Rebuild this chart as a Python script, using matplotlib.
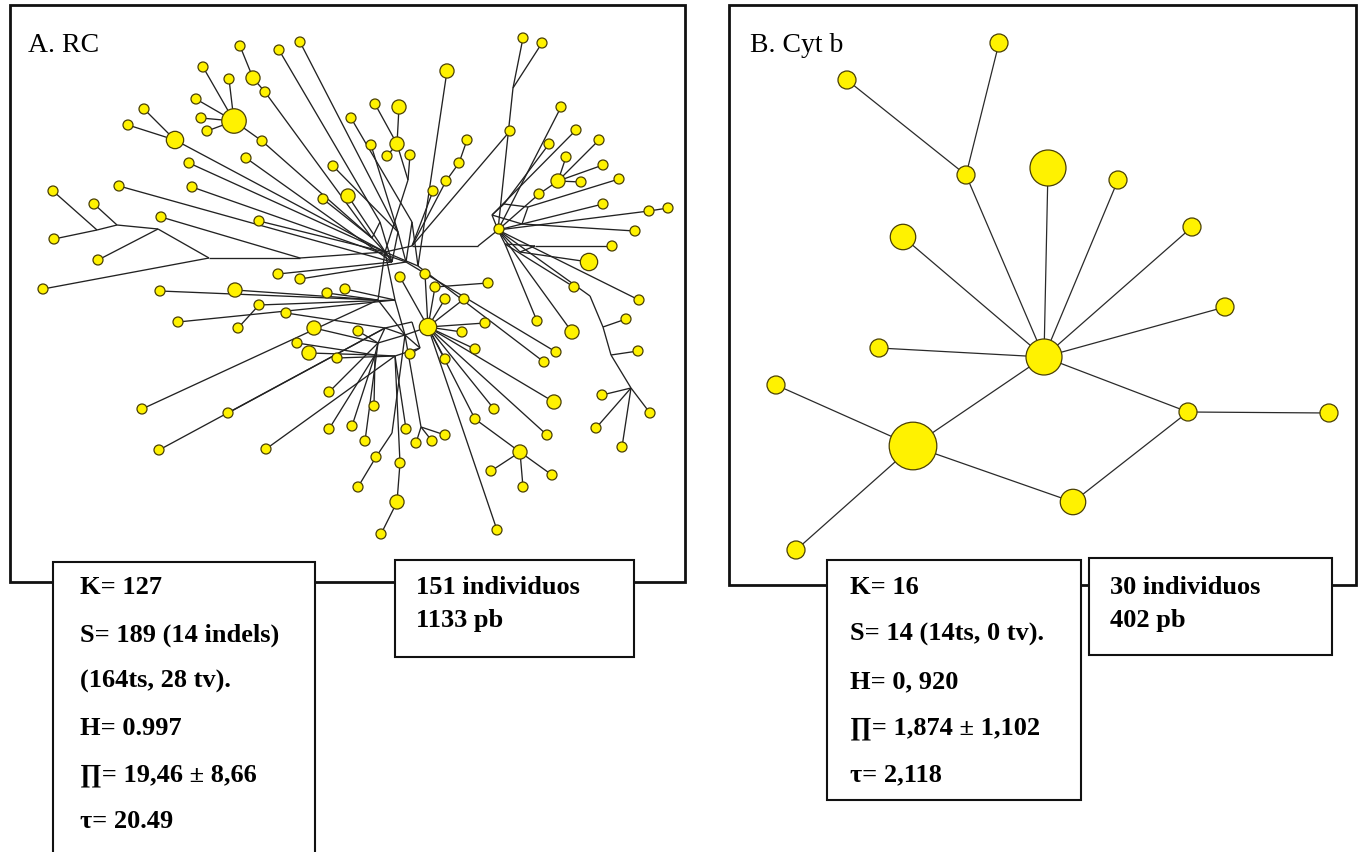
import matplotlib
matplotlib.use("Agg")
import matplotlib.pyplot as plt
from matplotlib.patches import Rectangle
from matplotlib.collections import LineCollection
import numpy as np

# ---- network A (RC): haplotypes ----
a_x = [240, 279, 253, 265, 300, 203, 229, 196, 201, 234, 262, 207, 144, 128, 175, 246, 189, 333, 348, 323,
       119, 192, 53, 94, 161, 259, 54, 98, 278, 300, 43, 160, 235, 327, 345, 259, 286, 178, 238, 314,
       297, 309, 337, 329, 142, 228, 329, 159, 266, 375, 399, 397, 351, 371, 387, 410, 447, 467, 459, 446,
       433, 510, 523, 542, 561, 576, 599, 549, 566, 558, 603, 581, 539, 619, 603, 649, 668, 635, 612, 589,
       574, 499, 639, 626, 638, 602, 650, 596, 622, 537, 572, 556, 544, 428, 400, 425, 435, 488, 445, 464,
       462, 485, 358, 475, 445, 410, 494, 475, 547, 554, 374, 352, 406, 416, 432, 445, 365, 376, 400, 397,
       381, 358, 520, 491, 552, 523, 497]
a_y = [46, 50, 78, 92, 42, 67, 79, 99, 118, 121, 141, 131, 109, 125, 140, 158, 163, 166, 196, 199,
       186, 187, 191, 204, 217, 221, 239, 260, 274, 279, 289, 291, 290, 293, 289, 305, 313, 322, 328, 328,
       343, 353, 358, 392, 409, 413, 429, 450, 449, 104, 107, 144, 118, 145, 156, 155, 71, 140, 163, 181,
       191, 131, 38, 43, 107, 130, 140, 144, 157, 181, 165, 182, 194, 179, 204, 211, 208, 231, 246, 262,
       287, 229, 300, 319, 351, 395, 413, 428, 447, 321, 332, 352, 362, 327, 277, 274, 287, 283, 299, 299,
       332, 323, 331, 349, 359, 354, 409, 419, 435, 402, 406, 426, 429, 443, 441, 435, 441, 457, 463, 502,
       534, 487, 452, 471, 475, 487, 530]
a_freq = [1, 1, 2, 1, 1, 1, 1, 1, 1, 6, 1, 1, 1, 1, 3, 1, 1, 1, 2, 1,
          1, 1, 1, 1, 1, 1, 1, 1, 1, 1, 1, 1, 2, 1, 1, 1, 1, 1, 1, 2,
          1, 2, 1, 1, 1, 1, 1, 1, 1, 1, 2, 2, 1, 1, 1, 1, 2, 1, 1, 1,
          1, 1, 1, 1, 1, 1, 1, 1, 1, 2, 1, 1, 1, 1, 1, 1, 1, 1, 1, 3,
          1, 1, 1, 1, 1, 1, 1, 1, 1, 1, 2, 1, 1, 3, 1, 1, 1, 1, 1, 1,
          1, 1, 1, 1, 1, 1, 1, 1, 1, 2, 1, 1, 1, 1, 1, 1, 1, 1, 1, 2,
          1, 1, 2, 1, 1, 1, 1]
a_parent = ['h2', 'm19', 'h3', 'm18', 'm21', 'h9', 'h9', 'h9', 'h9', 'h10', 'm18', 'h9', 'h14', 'h14', 'm0',
            'm20', 'm0', 'm21', 'm20', 'm18', 'm20', 'm22', 'm9', 'm8', 'm5', 'm0', 'm9', 'm7', 'm20', 'm22',
            'm6', 'm26', 'm26', 'm26', 'm25', 'm25', 'm28', 'm25', 'h35', 'm27', 'm32', 'm32', 'm31', 'm27',
            'm26', 'm28', 'm32', 'm28', 'm31', 'h51', 'h51', 'm15', 'm23', 'm21', 'h51', 'm15', 'm24', 'h58',
            'h59', 'm4', 'm4', 'm4', 'm10', 'm10', 'm2', 'm33', 'h69', 'm34', 'h69', 'h72', 'h69', 'h69', 'm2',
            'm35', 'm36', 'm2', 'h75', 'm36', 'm38', 'm39', 'm37', 'm2', 'm2', 'm12', 'm13', 'm14', 'm14',
            'm14', 'm14', 'm37', 'm2', 'm22', 'm24', 'm1', 'h93', 'h93', 'h93', 'h96', 'h93', 'h93', 'h93',
            'h93', 'm27', 'h93', 'h93', 'm30', 'h93', 'h93', 'h93', 'h93', 'm32', 'm32', 'm31', 'm16', 'm16',
            'm16', 'm27', 'm17', 'm31', 'h118', 'h119', 'h117', 'h107', 'h122', 'h122', 'h122', 'h93']

# ---- network A: median vectors ----
mv_x = [385, 405, 498, 478, 412, 300, 209, 158, 117, 97, 513, 590, 603, 611, 631, 408, 421, 392,
        372, 380, 392, 398, 406, 412, 418, 395, 378, 378, 385, 412, 420, 395, 375,
        492, 504, 528, 522, 505, 535, 520]
mv_y = [252, 335, 230, 246, 246, 258, 258, 229, 225, 230, 88, 296, 327, 355, 388, 180, 427, 433,
        238, 222, 262, 232, 262, 222, 266, 300, 300, 343, 328, 322, 348, 356, 355,
        215, 204, 207, 224, 244, 246, 252]
mv_links = [('m0', 'm4'), ('m4', 'm3'), ('m3', 'm2'), ('m0', 'm5'), ('m5', 'm6'), ('m6', 'm7'),
            ('m7', 'm8'), ('m8', 'm9'), ('m2', 'm10'), ('m2', 'm11'), ('m11', 'm12'), ('m12', 'm13'),
            ('m13', 'm14'), ('m0', 'm15'), ('m1', 'm16'), ('m1', 'm17'),
            ('m18', 'm19'), ('m19', 'm20'), ('m20', 'm21'), ('m21', 'm22'), ('m22', 'm23'), ('m23', 'm24'),
            ('m24', 'm0'), ('m18', 'm0'), ('m20', 'm0'), ('m0', 'm25'), ('m25', 'm1'), ('m26', 'm0'),
            ('m26', 'm1'), ('m27', 'm28'), ('m28', 'm29'), ('m29', 'm30'), ('m30', 'm31'), ('m31', 'm32'),
            ('m32', 'm27'), ('m28', 'm1'), ('m30', 'm1'), ('m27', 'm1'),
            ('m33', 'm34'), ('m34', 'm35'), ('m35', 'm36'), ('m36', 'm33'), ('m2', 'm33'), ('m2', 'm37'),
            ('m37', 'm38'), ('m38', 'm39'), ('m39', 'm2'), ('m36', 'm2')]

# ---- network B (Cyt b) ----
b_x = [999, 847, 966, 1048, 1118, 903, 1192, 1225, 879, 1044, 776, 913, 1188, 1329, 1073, 796]
b_y = [43, 80, 175, 168, 180, 237, 227, 307, 348, 357, 385, 446, 412, 413, 502, 550]
b_freq = [1, 1, 1, 4, 1, 2, 1, 1, 1, 4, 1, 7, 1, 1, 2, 1]
b_links = [(0, 2), (1, 2), (2, 9), (3, 9), (4, 9), (5, 9), (6, 9), (7, 9), (8, 9), (9, 11),
           (9, 12), (10, 11), (11, 14), (11, 15), (14, 12), (12, 13)]

a_stats = ["K= 127", "S= 189 (14 indels)", "(164ts, 28 tv).", "H= 0.997",
           "\u220f= 19,46 \u00b1 8,66", "\u03c4= 20.49"]
a_sample = ["151 individuos", "1133 pb"]
b_stats = ["K= 16", "S= 14 (14ts, 0 tv).", "H= 0, 920",
           "\u220f= 1,874 \u00b1 1,102", "\u03c4= 2,118"]
b_sample = ["30 individuos", "402 pb"]

serif = ['Liberation Serif', 'DejaVu Serif']
yellow = '#fff200'
rim = '#4a4005'

fig = plt.figure(figsize=(13.58, 8.52), dpi=100)
ax = fig.add_axes([0, 0, 1, 1])
ax.set_xlim(0, 1358)
ax.set_ylim(852, 0)
ax.axis('off')


def pt(name):
    i = int(name[1:])
    if name[0] == 'h':
        return (a_x[i], a_y[i])
    return (mv_x[i], mv_y[i])


def area(r_px):
    # scatter size in pt^2 for a radius given in pixels
    return (2 * r_px * 72 / 100) ** 2


# network A edges
segs = [(pt('h%d' % i), pt(p)) for i, p in enumerate(a_parent)]
segs += [(pt(u), pt(v)) for u, v in mv_links]
ax.add_collection(LineCollection(segs, colors='#222222', linewidths=0.95, zorder=2))
ra = 5.0 * np.sqrt(a_freq)
ax.scatter(a_x, a_y, s=area(ra), c=yellow, edgecolors=rim, linewidths=0.9, zorder=3)

# network B edges
segs = [((b_x[i], b_y[i]), (b_x[j], b_y[j])) for i, j in b_links]
ax.add_collection(LineCollection(segs, colors='#2a2a2a', linewidths=0.9, zorder=2))
rb = 9.0 * np.sqrt(b_freq)
ax.scatter(b_x, b_y, s=area(rb), c=yellow, edgecolors=rim, linewidths=0.9, zorder=3)

# panel frames
ax.add_patch(Rectangle((10, 5), 675, 577, fill=False, lw=2, ec='#111111', zorder=4))
ax.add_patch(Rectangle((729, 5), 627, 580, fill=False, lw=2, ec='#111111', zorder=4))
ax.text(28, 45, "A. RC", fontsize=20, family=serif, va='center', ha='left', zorder=6)
ax.text(750, 45, "B. Cyt b", fontsize=20, family=serif, va='center', ha='left', zorder=6)

# summary boxes
boxes = [(53, 562, 262, 320), (395, 560, 239, 97), (827, 560, 254, 240), (1089, 558, 243, 97)]
for x0, y0, w, h in boxes:
    ax.add_patch(Rectangle((x0, y0), w, h, fc='white', lw=1.5, ec='#111111', zorder=5))

fs = 19
for k, s in enumerate(a_stats):
    ax.text(80, 588 + 46.8 * k, s, fontsize=fs, family=serif, weight='bold', va='center', zorder=6)
for k, s in enumerate(b_stats):
    ax.text(850, 588 + 46.8 * k, s, fontsize=fs, family=serif, weight='bold', va='center', zorder=6)
for k, s in enumerate(a_sample):
    ax.text(416, 588 + 33 * k, s, fontsize=fs, family=serif, weight='bold', va='center', zorder=6)
for k, s in enumerate(b_sample):
    ax.text(1110, 588 + 33 * k, s, fontsize=fs, family=serif, weight='bold', va='center', zorder=6)

fig.savefig("out.png", dpi=100)
